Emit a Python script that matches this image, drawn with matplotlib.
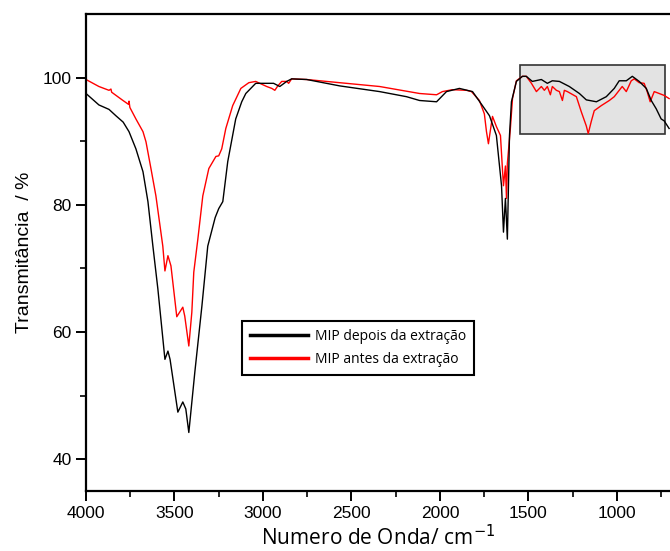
import matplotlib.pyplot as plt
from matplotlib.patches import Rectangle

# MIP depois da extração (black)
wn_depois = [4000, 3927, 3870, 3831, 3790, 3757, 3718, 3678, 3650, 3622, 3594, 3554, 3537, 3525,
             3481, 3453, 3436, 3419, 3385, 3345, 3312, 3270, 3250, 3227, 3199, 3154, 3120, 3097,
             3041, 2984, 2940, 2905, 2866, 2838, 2753, 2567, 2341, 2189, 2115, 2019,
             1963, 1890, 1816, 1760, 1720, 1681, 1652, 1641, 1630, 1619, 1607, 1596,
             1568, 1534, 1512, 1478, 1427, 1393, 1365, 1325, 1269, 1212, 1173, 1116,
             1060, 1015, 987, 947, 913, 874, 834, 806, 778, 750, 733, 705]
t_depois = [97.5, 95.7, 95.0, 94.0, 93.0, 91.5, 88.8, 85.2, 80.5, 73.5, 66.8, 55.7, 57.0, 55.7,
            47.4, 49.0, 47.9, 44.2, 53.7, 64.1, 73.5, 78.0, 79.4, 80.5, 86.8, 93.5, 96.2, 97.5,
            99.1, 99.1, 99.1, 98.6, 99.4, 99.8, 99.7, 98.7, 97.8, 97.0, 96.4, 96.2,
            97.8, 98.3, 97.8, 95.6, 94.0, 90.9, 83.0, 75.7, 81.0, 74.6, 90.9, 96.2,
            99.4, 100.2, 100.2, 99.4, 99.7, 99.1, 99.5, 99.4, 98.6, 97.5, 96.5, 96.2,
            97.0, 98.3, 99.5, 99.5, 100.2, 99.4, 98.3, 96.4, 95.1, 93.5, 93.2, 92.0]

# MIP antes da extração (red)
wn_antes = [4000, 3927, 3870, 3859, 3855, 3791, 3760, 3757, 3752, 3718, 3678, 3661,
            3633, 3605, 3566, 3554, 3537, 3520, 3487, 3453, 3442, 3419, 3402, 3391,
            3368, 3340, 3306, 3266, 3250, 3233, 3210, 3171, 3125, 3080, 3041, 3018,
            2979, 2950, 2933, 2916, 2894, 2866, 2855, 2838, 2753, 2567, 2341, 2115,
            2019, 1986, 1929, 1850, 1822, 1777, 1749, 1737, 1726, 1715, 1703, 1681,
            1658, 1647, 1641, 1630, 1624, 1619, 1602, 1590, 1568, 1534, 1512, 1483,
            1455, 1427, 1410, 1393, 1376, 1365, 1342, 1325, 1308, 1297, 1280, 1229,
            1201, 1173, 1162, 1145, 1128, 1088, 1043, 1015, 987, 970, 947, 919,
            902, 874, 846, 829, 812, 789, 761, 733, 705]
t_antes = [99.7, 98.6, 98.0, 98.2, 97.7, 96.4, 95.8, 96.3, 95.3, 93.5, 91.5, 89.9,
           85.7, 81.4, 73.5, 69.6, 72.0, 70.4, 62.4, 63.9, 62.5, 57.8, 63.1, 69.4,
           74.6, 81.4, 85.7, 87.6, 87.7, 88.8, 92.0, 95.6, 98.3, 99.2, 99.4, 99.1,
           98.6, 98.3, 98.0, 98.7, 99.4, 99.4, 99.1, 99.8, 99.7, 99.2, 98.6, 97.5,
           97.3, 97.8, 98.1, 98.0, 97.8, 96.4, 94.3, 91.5, 89.6, 91.7, 93.9, 92.3,
           90.9, 85.7, 83.0, 86.1, 81.0, 86.5, 92.0, 96.7, 99.5, 100.2, 100.2, 99.1,
           97.8, 98.6, 98.0, 98.6, 97.3, 98.6, 98.0, 97.8, 96.4, 98.0, 97.8, 97.0,
           94.6, 92.4, 91.2, 93.1, 94.8, 95.6, 96.4, 97.0, 98.0, 98.6, 97.8, 99.5,
           99.8, 99.2, 99.1, 97.8, 96.2, 97.8, 97.5, 97.2, 96.7]

fig = plt.figure(figsize=(6.7, 5.51), dpi=100)
ax = fig.add_axes([86/670, 60/551, 584/670, 477/551])

# highlighted region
ax.add_patch(Rectangle((1547, 91.2), 727 - 1547, 102.0 - 91.2,
                       facecolor='#e3e3e3', edgecolor='#333333', lw=1.2, zorder=1))

ax.plot(wn_depois, t_depois, color='black', lw=1.0, label='MIP depois da extração', zorder=3)
ax.plot(wn_antes, t_antes, color='red', lw=1.0, label='MIP antes da extração', zorder=2)

ax.set_xlim(4000, 700)
ax.set_ylim(35, 110)
ax.set_xticks([4000, 3500, 3000, 2500, 2000, 1500, 1000])
ax.set_xticks([3750, 3250, 2750, 2250, 1750, 1250, 750], minor=True)
ax.set_yticks([40, 60, 80, 100])
ax.set_yticks([50, 70, 90], minor=True)

for s in ['left', 'bottom', 'top']:
    ax.spines[s].set_linewidth(1.6)
ax.spines['right'].set_visible(False)
ax.tick_params(which='major', direction='out', length=7, width=1.4,
               labelsize=12.5, top=False, right=False)
ax.tick_params(which='minor', direction='out', length=4, width=1.2, top=False, right=False)
for lab in ax.get_xticklabels() + ax.get_yticklabels():
    lab.set_fontfamily('Liberation Sans')

ax.set_ylabel('Transmitância  / %', fontsize=14, family='Liberation Sans', labelpad=7)
ax.set_xlabel('Numero de Onda/ cm$^{-1}$', fontsize=15, family='Open Sans', labelpad=3)

leg = ax.legend(loc='upper left', bbox_to_anchor=(242/670, 1 - 321/551),
                bbox_transform=fig.transFigure, fancybox=False, framealpha=1,
                edgecolor='black', prop={'family': 'Open Sans', 'size': 10},
                handlelength=4.2, borderpad=0.55, labelspacing=0.6, handletextpad=0.5,
                borderaxespad=0)
leg.get_frame().set_linewidth(1.5)
for h in leg.get_lines():
    h.set_linewidth(2.5)

fig.savefig('out.png', dpi=100)
